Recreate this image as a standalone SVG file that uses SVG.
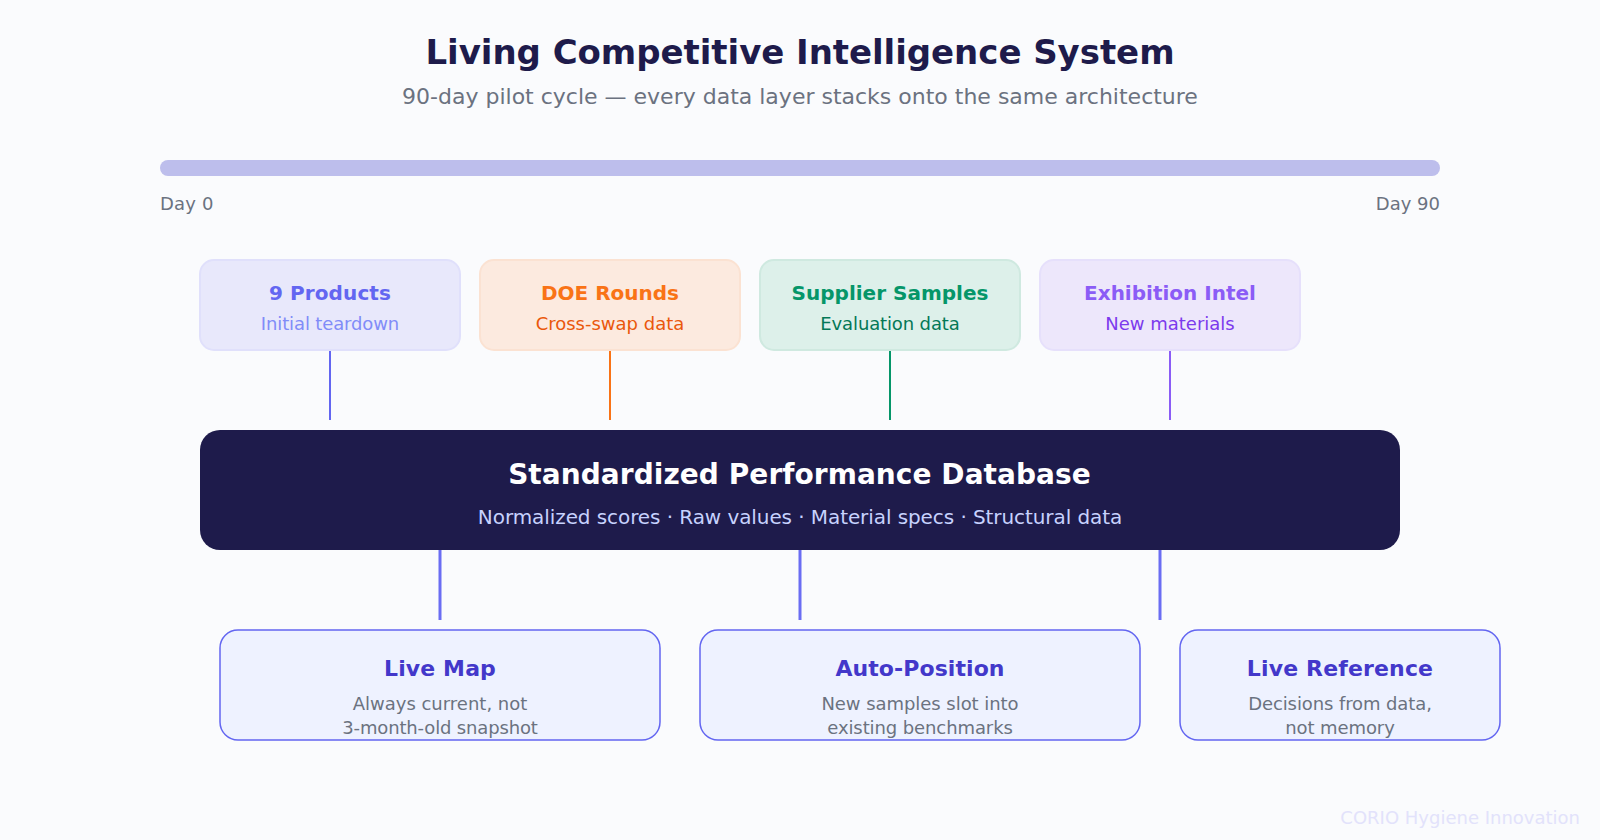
<svg xmlns="http://www.w3.org/2000/svg" width="1600" height="840" viewBox="0 0 1600 840">
<style>
text{font-family:"DejaVu Sans",sans-serif;text-anchor:middle}
.st{font-size:20px;font-weight:700}
.ss{font-size:18px}
.out{fill:#eef2ff;stroke:#6366f1;stroke-width:1.5}
.ot{font-size:22px;font-weight:700;fill:#4338ca}
.od{font-size:18px;fill:#6b7280}
</style>
<rect width="1600" height="840" fill="#fafbfd"/>
<g id="header">
<text x="800" y="64" font-size="34" font-weight="700" fill="#1e1b4b" letter-spacing="-0.05">Living Competitive Intelligence System</text>
<text x="800" y="104" font-size="22" fill="#6b7280">90-day pilot cycle — every data layer stacks onto the same architecture</text>
</g>
<g id="timeline">
<rect x="160" y="160" width="1280" height="16" rx="8" fill="#bdbeec"/>
<text x="160" y="210" font-size="18" fill="#6b7280" letter-spacing="0.2" style="text-anchor:start">Day 0</text>
<text x="1440" y="210" font-size="18" fill="#6b7280" style="text-anchor:end">Day 90</text>
</g>
<g id="connectors">
<line x1="330" y1="350" x2="330" y2="420" stroke="#6366f1" stroke-width="2"/>
<line x1="610" y1="350" x2="610" y2="420" stroke="#f97316" stroke-width="2"/>
<line x1="890" y1="350" x2="890" y2="420" stroke="#059669" stroke-width="2"/>
<line x1="1170" y1="350" x2="1170" y2="420" stroke="#8b5cf6" stroke-width="2"/>
<line x1="440" y1="550" x2="440" y2="620" stroke="#6a6df3" stroke-width="3"/>
<line x1="800" y1="550" x2="800" y2="620" stroke="#6a6df3" stroke-width="3"/>
<line x1="1160" y1="550" x2="1160" y2="620" stroke="#6a6df3" stroke-width="3"/>
</g>
<g id="node-products">
<rect x="200" y="260" width="260" height="90" rx="14" fill="#e8e8fb" stroke="#e0e0fb" stroke-width="2"/>
<text class="st" x="330" y="300" fill="#6366f1" letter-spacing="0.1">9 Products</text>
<text class="ss" x="330" y="330" fill="#818cf8" letter-spacing="-0.13">Initial teardown</text>
</g>
<g id="node-doe">
<rect x="480" y="260" width="260" height="90" rx="14" fill="#fceadf" stroke="#fbe2d2" stroke-width="2"/>
<text class="st" x="610" y="300" fill="#f97316">DOE Rounds</text>
<text class="ss" x="610" y="330" fill="#ea580c">Cross-swap data</text>
</g>
<g id="node-supplier">
<rect x="760" y="260" width="260" height="90" rx="14" fill="#ddf0ea" stroke="#cfe9e0" stroke-width="2"/>
<text class="st" x="890" y="300" fill="#059669">Supplier Samples</text>
<text class="ss" x="890" y="330" fill="#047857" letter-spacing="-0.13">Evaluation data</text>
</g>
<g id="node-exhibition">
<rect x="1040" y="260" width="260" height="90" rx="14" fill="#ede7fb" stroke="#e6e0fb" stroke-width="2"/>
<text class="st" x="1170" y="300" fill="#8b5cf6">Exhibition Intel</text>
<text class="ss" x="1170" y="330" fill="#7c3aed">New materials</text>
</g>
<g id="node-database">
<rect x="200" y="430" width="1200" height="120" rx="20" fill="#1e1b4b"/>
<text x="799.5" y="484" font-size="28" font-weight="700" fill="#ffffff" letter-spacing="0.06">Standardized Performance Database</text>
<text x="800" y="524" font-size="20" fill="#c7d2fe" letter-spacing="-0.08">Normalized scores · Raw values · Material specs · Structural data</text>
</g>
<g id="node-livemap">
<rect class="out" x="220" y="630" width="440" height="110" rx="18"/>
<text class="ot" x="440" y="676" letter-spacing="0.13">Live Map</text>
<text class="od" x="440" y="710">Always current, not</text>
<text class="od" x="440" y="734" letter-spacing="-0.15">3-month-old snapshot</text>
</g>
<g id="node-autoposition">
<rect class="out" x="700" y="630" width="440" height="110" rx="18"/>
<text class="ot" x="920" y="676" letter-spacing="0.08">Auto-Position</text>
<text class="od" x="920" y="710" letter-spacing="-0.05">New samples slot into</text>
<text class="od" x="920" y="734" letter-spacing="-0.1">existing benchmarks</text>
</g>
<g id="node-livereference">
<rect class="out" x="1180" y="630" width="320" height="110" rx="18"/>
<text class="ot" x="1340" y="676" letter-spacing="0.15">Live Reference</text>
<text class="od" x="1340" y="710" letter-spacing="-0.1">Decisions from data,</text>
<text class="od" x="1340" y="734" letter-spacing="-0.1">not memory</text>
</g>
<text x="1580" y="824" font-size="18" fill="#e2e2fb" style="text-anchor:end">CORIO Hygiene Innovation</text>
</svg>
